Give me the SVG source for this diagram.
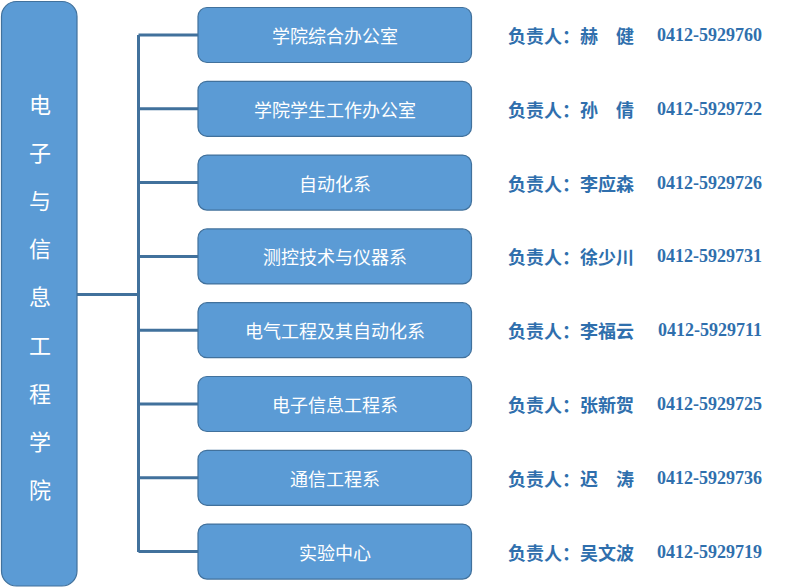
<svg xmlns="http://www.w3.org/2000/svg" width="799" height="588" viewBox="0 0 799 588">
<style>
.box{fill:#5b9bd5;stroke:#41719c;stroke-width:1.2}
.lbl{font-family:"Noto Sans CJK SC","Noto Sans",sans-serif;font-size:18px;fill:#ffffff;text-anchor:middle;dominant-baseline:central}
.vt{font-family:"Noto Sans CJK SC","Noto Sans",sans-serif;font-size:22px;fill:#ffffff;text-anchor:middle;dominant-baseline:central}
.who{font-family:"Noto Sans CJK SC","Noto Sans",sans-serif;font-size:18px;font-weight:bold;fill:#2f6fad;dominant-baseline:central}
.tel{font-family:"Liberation Serif",serif;font-size:18px;font-weight:bold;fill:#2f6fad;dominant-baseline:central}
.ln{stroke:#41719c;stroke-width:3;fill:none}
</style>
<g id="connectors">
<line class="ln" x1="77" y1="294.5" x2="138.5" y2="294.5"/>
<line class="ln" x1="138.5" y1="35" x2="138.5" y2="552"/>
<line class="ln" x1="138.5" y1="35" x2="198" y2="35"/>
<line class="ln" x1="138.5" y1="108.8" x2="198" y2="108.8"/>
<line class="ln" x1="138.5" y1="182.6" x2="198" y2="182.6"/>
<line class="ln" x1="138.5" y1="256.4" x2="198" y2="256.4"/>
<line class="ln" x1="138.5" y1="330.2" x2="198" y2="330.2"/>
<line class="ln" x1="138.5" y1="404" x2="198" y2="404"/>
<line class="ln" x1="138.5" y1="477.8" x2="198" y2="477.8"/>
<line class="ln" x1="138.5" y1="551.6" x2="198" y2="551.6"/>
</g>
<g id="root">
<rect class="box" x="1.5" y="1.5" width="75.5" height="584.5" rx="15"/>
<text class="vt" x="40" y="103">电</text>
<text class="vt" x="40" y="151.1">子</text>
<text class="vt" x="40" y="199.2">与</text>
<text class="vt" x="40" y="247.3">信</text>
<text class="vt" x="40" y="295.4">息</text>
<text class="vt" x="40" y="343.5">工</text>
<text class="vt" x="40" y="391.6">程</text>
<text class="vt" x="40" y="439.7">学</text>
<text class="vt" x="40" y="487.8">院</text>
</g>
<g id="n1"><rect class="box" x="198" y="7.5" width="273.5" height="55" rx="9"/><text class="lbl" x="335" y="35">学院综合办公室</text><text class="who" x="508" y="35">负责人：赫　健</text><text class="tel" x="657" y="35">0412-5929760</text></g>
<g id="n2"><rect class="box" x="198" y="81.3" width="273.5" height="55" rx="9"/><text class="lbl" x="335" y="108.8">学院学生工作办公室</text><text class="who" x="508" y="108.8">负责人：孙　倩</text><text class="tel" x="657" y="108.8">0412-5929722</text></g>
<g id="n3"><rect class="box" x="198" y="155.1" width="273.5" height="55" rx="9"/><text class="lbl" x="335" y="182.6">自动化系</text><text class="who" x="508" y="182.6">负责人：李应森</text><text class="tel" x="657" y="182.6">0412-5929726</text></g>
<g id="n4"><rect class="box" x="198" y="228.9" width="273.5" height="55" rx="9"/><text class="lbl" x="335" y="256.4">测控技术与仪器系</text><text class="who" x="508" y="256.4">负责人：徐少川</text><text class="tel" x="657" y="256.4">0412-5929731</text></g>
<g id="n5"><rect class="box" x="198" y="302.7" width="273.5" height="55" rx="9"/><text class="lbl" x="335" y="330.2">电气工程及其自动化系</text><text class="who" x="508" y="330.2">负责人：李福云</text><text class="tel" x="658" y="330.2">0412-5929711</text></g>
<g id="n6"><rect class="box" x="198" y="376.5" width="273.5" height="55" rx="9"/><text class="lbl" x="335" y="404">电子信息工程系</text><text class="who" x="508" y="404">负责人：张新贺</text><text class="tel" x="657" y="404">0412-5929725</text></g>
<g id="n7"><rect class="box" x="198" y="450.3" width="273.5" height="55" rx="9"/><text class="lbl" x="335" y="477.8">通信工程系</text><text class="who" x="508" y="477.8">负责人：迟　涛</text><text class="tel" x="657" y="477.8">0412-5929736</text></g>
<g id="n8"><rect class="box" x="198" y="524.1" width="273.5" height="55" rx="9"/><text class="lbl" x="335" y="551.6">实验中心</text><text class="who" x="508" y="551.6">负责人：吴文波</text><text class="tel" x="657" y="551.6">0412-5929719</text></g>
</svg>
